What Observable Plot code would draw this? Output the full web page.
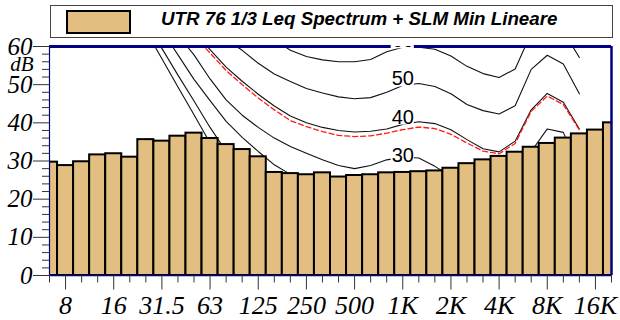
<!DOCTYPE html>
<html>
<head>
<meta charset="utf-8">
<script src="https://cdn.jsdelivr.net/npm/d3@7"></script>
<script src="https://cdn.jsdelivr.net/npm/@observablehq/plot@0.6"></script>
<style>
  html, body { margin: 0; padding: 0; background: #fff; }
  body { width: 620px; height: 320px; overflow: hidden; }
  #legend { position: relative; width: 620px; height: 40px; }
  #legend .box { position: absolute; left: 50px; top: 5px; width: 561px; height: 31px; border: 1px solid #444; background: #fff; }
  #legend .swatch { position: absolute; left: 66px; top: 10px; width: 61px; height: 20px; border: 2px solid #000; background: #e2bf80; }
  #legend .label { position: absolute; left: 161px; top: 8px; font-family: "Liberation Sans", Arial, sans-serif; font-weight: bold; font-style: italic; font-size: 18.75px; color: #000; white-space: nowrap; }
  #chart svg { display: block; overflow: visible; }
  #chart svg text { font-family: "Liberation Serif", "Times New Roman", serif; font-style: italic; }
</style>
</head>
<body>
<div id="legend">
  <div class="box"></div>
  <div class="swatch"></div>
  <div class="label">UTR 76 1/3 Leq Spectrum + SLM Min Lineare</div>
</div>
<div id="chart"></div>
<script>
// 1/3-octave band centres (x categories)
const bands = ["6.3","8","10","12.5","16","20","25","31.5","40","50","63","80","100","125","160","200","250","315","400","500","630","800","1K","1.25K","1.6K","2K","2.5K","3.15K","4K","5K","6.3K","8K","10K","12.5K","16K","20K"];
// labelled x ticks
const tickLabels = ["8","16","31.5","63","125","250","500","1K","2K","4K","8K","16K"];
// Leq spectrum (dB), one value per band
const leq = [29.7,28.8,29.8,31.6,31.9,31.0,35.6,35.2,36.5,37.3,35.9,34.3,33.0,31.1,27.0,26.7,26.4,26.9,25.8,26.2,26.4,26.9,27.0,27.2,27.4,28.1,29.3,30.3,31.2,32.3,33.6,34.6,36.0,37.1,38.1,40.0];

// Equal-loudness style contours, bands 25 Hz .. 12.5 kHz
const curveStart = "25";
const phon0  = [64.2,56.8,49.4,42.1,34.7,28.5,23.0,18.0,14.0,10.5,8.0,6.0,4.5,3.5,3.0,3.5,4.0,4.0,2.5,0.0,-2.5,-4.0,-4.5,-2.0,5.0,10.0,9.0,3.0];
const phon10 = [66.4,59.5,52.5,45.7,38.8,32.5,27.0,22.5,19.0,16.5,14.5,12.5,11.0,10.0,10.0,10.5,11.0,11.5,10.0,8.0,5.5,3.5,3.0,5.0,13.0,19.0,17.5,11.0];
const phon20 = [70.5,64.2,57.8,51.4,45.8,40.4,36.2,32.5,29.0,26.5,24.5,22.8,21.3,20.2,19.8,20.3,21.0,21.3,20.2,18.0,15.5,13.5,12.8,15.0,23.0,28.5,27.5,19.0];
const phon30 = [76.0,70.5,63.0,57.8,51.5,46.0,42.0,38.8,36.0,33.8,32.0,30.3,28.8,28.0,28.8,30.3,31.0,30.8,28.6,26.0,23.5,22.0,21.5,24.0,32.5,38.4,37.5,28.0];
const phon40 = [80.0,74.0,68.5,63.8,59.2,54.6,50.9,47.5,44.4,41.8,40.0,38.8,38.0,37.6,37.8,38.4,39.6,40.3,39.8,38.2,35.6,33.2,32.4,35.2,43.4,47.7,45.4,38.4];
const phon50 = [85.0,80.0,74.5,69.5,65.0,61.8,59.0,55.6,52.8,50.8,49.0,47.8,46.8,46.3,46.6,48.0,49.8,50.3,49.5,47.6,44.8,43.2,42.3,44.5,54.0,57.7,55.4,47.6];
const phon60 = [90.0,85.0,80.0,75.5,71.5,68.0,65.5,63.5,61.8,59.0,57.4,56.5,56.0,56.0,56.6,58.6,59.8,59.8,59.3,57.5,54.8,52.9,51.9,54.1,63.5,68.0,64.0,57.1];
const slmMin = [79.0,73.0,67.5,62.7,58.3,53.7,50.0,46.5,43.4,40.6,39.0,37.7,36.7,36.4,36.6,37.3,38.2,38.9,38.5,37.0,34.7,32.6,31.9,34.6,43.0,47.0,44.8,38.1];

// contour labels
const curveLabels = ["30","40","50","60"];
const labelLevels = [30,40,50,60];
const labelBand = "1K";

const yMajor = [0,10,20,30,40,50,60];
const yMinor = d3.range(0, 61, 2).filter(v => v % 10 !== 0);

// ---- build tables
const start = bands.indexOf(curveStart);
const toPts = (arr, name) => arr.map((v, k) => ({i: start + k, v, name}));
const blackCurves = [
  ...toPts(phon0, "0"), ...toPts(phon10, "10"), ...toPts(phon20, "20"),
  ...toPts(phon30, "30"), ...toPts(phon40, "40"), ...toPts(phon50, "50"), ...toPts(phon60, "60")
];
const redCurve = toPts(slmMin, "slm");
const barData = leq.map((v, i) => ({i, v}));
const majorIdx = tickLabels.map(t => bands.indexOf(t));
const minorIdx = d3.range(bands.length).filter(i => !majorIdx.includes(i));
const li = bands.indexOf(labelBand);
const labelData = curveLabels.map((t, k) => ({i: li, v: labelLevels[k], t}));

const chart = Plot.plot({
  width: 620,
  height: 280,
  marginTop: 6,
  marginBottom: 45,
  marginLeft: 49,
  marginRight: 9,
  style: {background: "white", overflow: "visible"},
  x: {type: "linear", domain: [0, bands.length - 1], axis: null},
  y: {domain: [0, 60], axis: null},
  marks: [
    // contours (behind bars)
    Plot.line(blackCurves, {x: "i", y: "v", z: "name", stroke: "#111", strokeWidth: 1.1, clip: true}),
    Plot.line(redCurve, {x: "i", y: "v", stroke: "#ff1a1a", strokeWidth: 1.3, strokeDasharray: "5,3", clip: true}),
    // spectrum bars
    Plot.rect(barData, {x1: d => d.i - 0.5, x2: d => d.i + 0.5, y1: 0, y2: "v", fill: "#e2bf80", stroke: "#000", strokeWidth: 2, clip: true}),
    // frame
    Plot.ruleX([0], {stroke: "#000080", strokeWidth: 1.2}),
    Plot.ruleY([0], {stroke: "#000080", strokeWidth: 1.5}),
    Plot.ruleX([bands.length - 1], {stroke: "#000080", strokeWidth: 2.5}),
    Plot.ruleY([60], {stroke: "#000080", strokeWidth: 3}),
    // contour labels with white background
    Plot.rect(labelData, {x1: d => d.i - 0.72, x2: d => d.i + 0.72, y1: d => d.v - 0.6, y2: d => Math.min(d.v + 4.6, 60.8), fill: "white"}),
    Plot.text(labelData, {x: "i", y: d => d.v + 1.5, text: "t", fontSize: 20, fill: "#000", clip: true}),
    // y axis
    Plot.axisY(yMinor, {anchor: "left", tickSize: 7, tickFormat: () => "", label: null, stroke: "#333"}),
    Plot.axisY(yMajor, {anchor: "left", tickSize: 16, tickPadding: 1, label: null, fontSize: 25, stroke: "#333", fill: "#000"}),
    Plot.text(["dB"], {frameAnchor: "top-left", lineAnchor: "middle", textAnchor: "end", dx: -16, dy: 18, fontSize: 21, fill: "#000"}),
    // x axis
    Plot.axisX(minorIdx, {anchor: "bottom", tickSize: 7.5, tickFormat: () => "", label: null, stroke: "#333"}),
    Plot.axisX(majorIdx, {anchor: "bottom", tickSize: 14.5, tickPadding: 6, tickFormat: i => bands[i], label: null, fontSize: 26, stroke: "#333", fill: "#000"})
  ]
});
document.getElementById("chart").appendChild(chart);

// contour labels are upright sans-serif (axis texts stay italic serif)
d3.select(chart).selectAll("text").each(function() {
  const inAxis = this.closest('g[aria-label$="tick label"]');
  if (!inAxis && curveLabels.includes(this.textContent)) {
    this.style.setProperty("font-family", "'Liberation Sans', Arial, sans-serif", "important");
    this.style.setProperty("font-style", "normal", "important");
  }
});
</script>
</body>
</html>
